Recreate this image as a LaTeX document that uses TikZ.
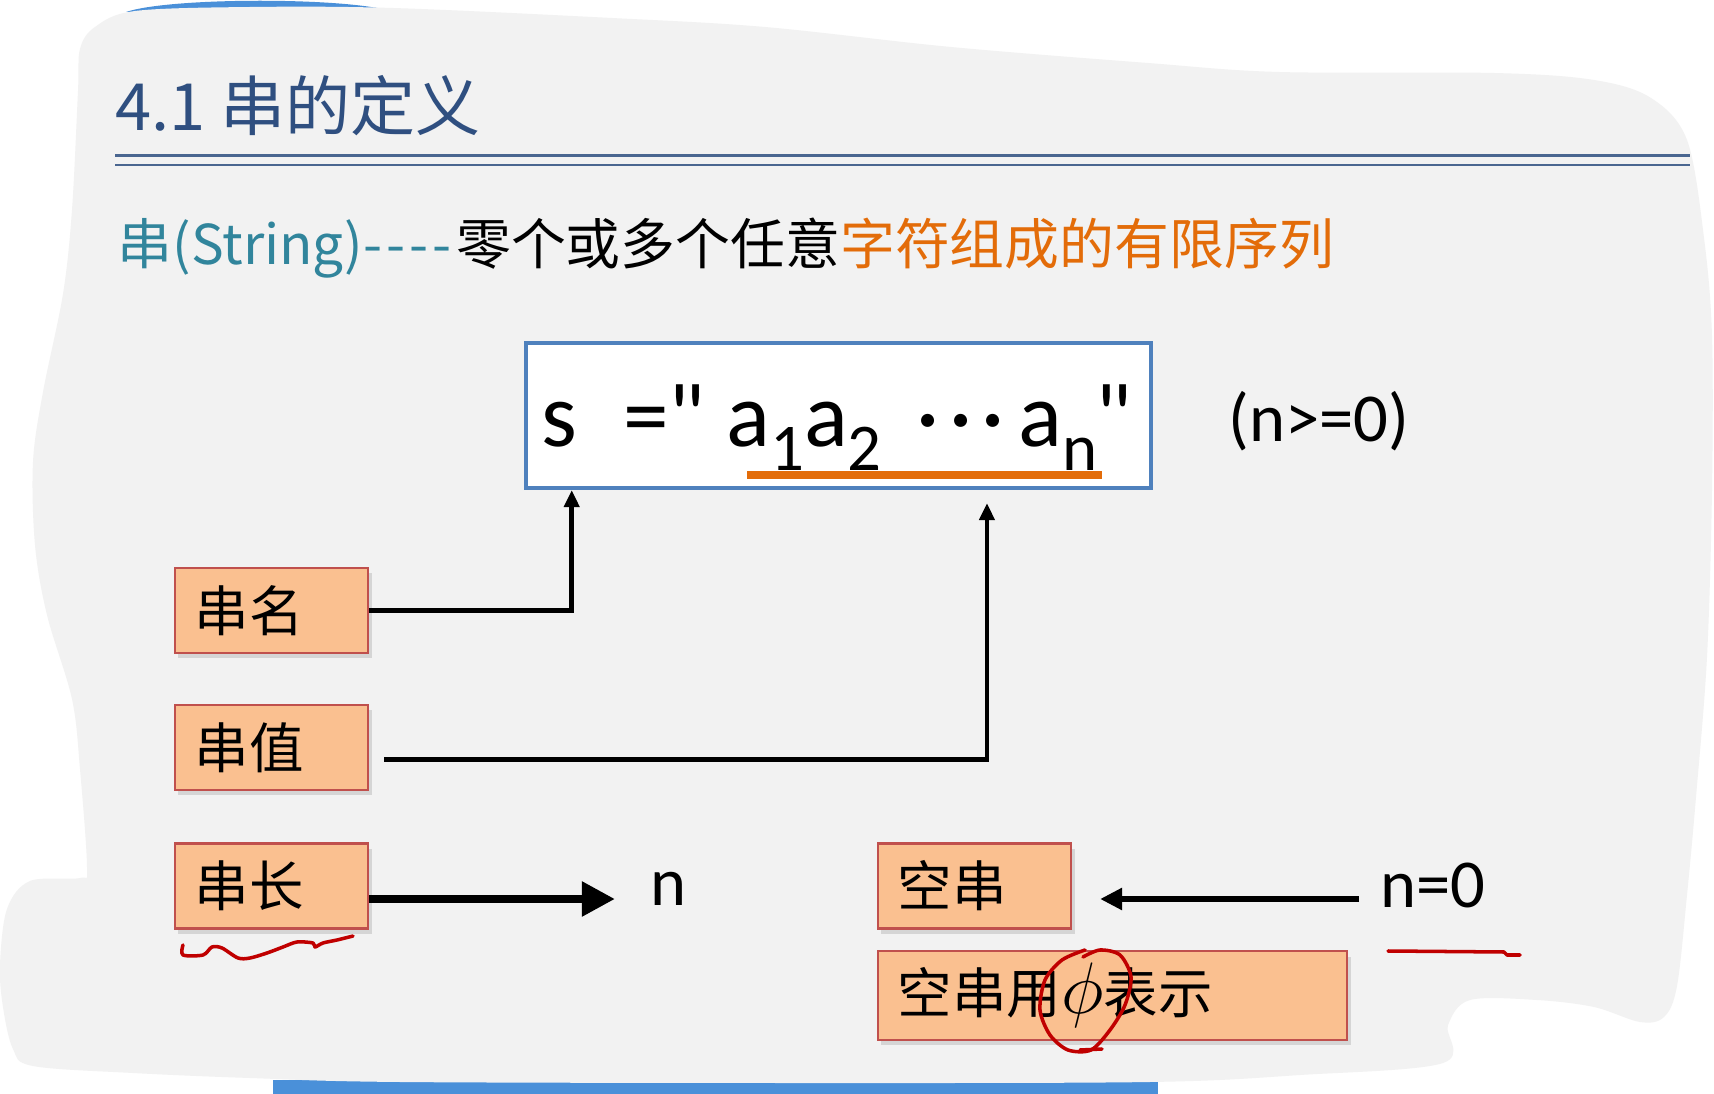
\documentclass[tikz,border=0pt]{standalone}
\usepackage{fontspec}
\setmainfont{Noto Sans CJK SC}
\newfontfamily\calfont{Carlito}
\usepackage{tikz}
\usetikzlibrary{arrows.meta, positioning, calc, shadows}
\definecolor{PageGray}{HTML}{F2F2F2}
\definecolor{PeekBlue}{HTML}{4A90D9}
\definecolor{TitleBlue}{HTML}{2F4F80}
\definecolor{RuleBlue}{HTML}{4A6690}
\definecolor{TealText}{HTML}{31859C}
\definecolor{OrangeText}{HTML}{E36C09}
\definecolor{BoxFill}{HTML}{FAC090}
\definecolor{BoxLine}{HTML}{C0504D}
\definecolor{FrameBlue}{HTML}{4F81BD}
\definecolor{PenRed}{HTML}{C00000}
\newcommand{\lowsub}[1]{\raisebox{-0.27em}{\fontsize{19}{19}\selectfont #1}}
\newcommand{\dotrow}{\textperiodcentered\hspace{2.6pt}\textperiodcentered\hspace{2.6pt}\textperiodcentered}
\newcommand{\dashrow}{-\kern1.2pt-\kern1.2pt-\kern1.2pt-\kern1.2pt}

\begin{document}
\begin{tikzpicture}[
    x=0.01cm, y=-0.01cm, >=Stealth,
    tag/.style={draw=BoxLine, line width=0.6pt, fill=BoxFill, minimum height=0.85cm,
      text width=1.53cm, inner xsep=0.2cm, align=left,
      font=\fontsize{15.5}{18}\selectfont,
      drop shadow={shadow xshift=1pt, shadow yshift=-1.5pt, opacity=0.25}},
    frame/.style={draw=FrameBlue, line width=1.2pt, fill=white, inner sep=0},
    latin/.style={inner sep=0, anchor=base west, font=\calfont\fontsize{19.5}{22}\selectfont},
    link/.style={line width=1.3pt, -{Triangle[length=0.17cm, width=0.15cm]}},
    back/.style={line width=1.6pt, -{Triangle[length=0.22cm, width=0.21cm]}},
    fat/.style={line width=2.3pt, -{Triangle[length=0.33cm, width=0.33cm]}},
    pen/.style={PenRed, line width=1pt, line cap=round, line join=round},
  ]
  % 截图底色
  \fill[white] (0,0) rectangle (1714,1094);
  \useasboundingbox (0,0) rectangle (1714,1094);
  \fill[PeekBlue] (126,12) .. controls (170,-3) and (350,-3) .. (394,12) -- cycle;
  \fill[PeekBlue] (273,1094) -- (273,1080) -- (1158,1080) -- (1158,1094) -- cycle;
  \fill[PageGray] plot[smooth cycle, tension=0.55] coordinates {
    (80,49) (95,27) (135,11) (250,7) (393,8) (612,18) (765,27) (951,47) (1148,63)
    (1279,72) (1494,73) (1594,80) (1651,98) (1687,140) (1704,238) (1712,336)
    (1712,490) (1707,657) (1696,797) (1687,895) (1677,986) (1664,1017) (1640,1022)
    (1594,1007) (1537,1000) (1470,1000) (1448,1025) (1443,1063) (1300,1075)
    (1150,1082) (800,1083) (400,1082) (250,1078) (133,1073) (33,1066) (13,1049)
    (3,1007) (0,965) (7,909) (30,881) (80,878) (87,867) (80,769) (72,699) (47,615)
    (35,545) (33,462) (43,392) (63,294) (72,210) (78,91)};

  % 标题
  \node[inner sep=0, anchor=base west, text=TitleBlue, font=\fontsize{18.5}{20}\selectfont]
    (title) at (115,131) {4.1 串的定义};
  \draw[RuleBlue, line width=1pt] (115,155.5) -- (1690,155.5);
  \draw[RuleBlue, line width=0.5pt] (115,165) -- (1690,165);
  \node[inner sep=0, anchor=base west, font=\fontsize{15.6}{18}\selectfont] (defn) at (117,265)
    {\textcolor{TealText}{串(String)\dashrow}零个或多个任意\textcolor{OrangeText}{字符组成的有限序列}};

  % 串的写法
  \node[frame, minimum width=6.25cm, minimum height=1.45cm] (sbox) at (838.5,415.5) {};
  \node[inner sep=0, anchor=base west, font=\calfont\fontsize{26}{30}\selectfont] (expr) at (541,446)
    {s\hspace{13pt}="\hspace{6pt}a\lowsub{1}a\lowsub{2}\hspace{10pt}\dotrow\hspace{4pt}a\lowsub{n}\hspace{-0.5pt}"};
  \draw[OrangeText, line width=2pt] (747,475) -- (1102,475);
  \node[latin] (cond) at (1228,442) {(n>=0)};

  % 概念框
  \node[tag] (sname) at (271.5,610.5) {串名};
  \node[tag] (sval) at (271.5,747.5) {串值};
  \node[tag] (slen) at (271.5,886) {串长};
  \node[tag] (empty) at (974.5,886) {空串};
  \node[tag, text width=4.29cm] (emptysym) at (1112.5,995.5)
    {空串用{\fontsize{20}{20}\selectfont$\phi$}表示};
  \node[latin] (nlen) at (650,905) {n};
  \node[latin] (nzero) at (1380,907) {n=0};

  % 连线
  \draw[link] (sname.east) -| ([xshift=0.48cm]sbox.south west);
  \draw[link] ($(sval.east)+(15,12)$) -| ([xshift=4.63cm, yshift=-0.13cm]sbox.south west);
  \draw[fat] ($(slen.east)+(0,13)$) -- ($(slen.east -| nlen.west)+(-35,13)$);
  \draw[back] ($(empty.east -| nzero.west)+(-21,13)$) -- ($(empty.east)+(28,13)$);

  % 红笔批注
  \draw[pen] plot[smooth] coordinates {(183,945) (183,955) (203,955) (212,947) (222,948)
    (238,958) (250,958) (267,953) (283,947) (297,942) (313,943) (315,947) (323,943)
    (337,940) (353,936)};
  \draw[pen] (1388,951) -- (1504,952) -- (1507,955) -- (1520,955);
  \draw[pen] plot[smooth] coordinates {(1083,957) (1100,950) (1120,955) (1131,977)
    (1125,1005) (1110,1030) (1091,1050) (1068,1050) (1050,1035) (1040,1010)
    (1045,980) (1062,960) (1085,950)};
  \draw[pen] (1080,1050) -- (1102,1049);
\end{tikzpicture}
\end{document}
